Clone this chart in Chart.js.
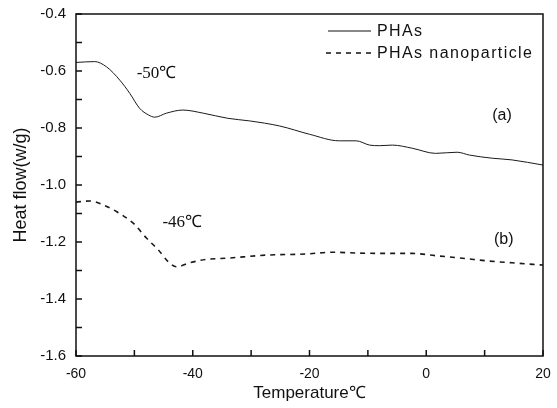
<!DOCTYPE html>
<html>
<head>
<meta charset="utf-8">
<script src="https://cdn.jsdelivr.net/npm/chart.js@4.4.1/dist/chart.umd.min.js"></script>
<style>
  html, body { margin: 0; padding: 0; background: #fff; }
  #wrap { width: 557px; height: 408px; }
</style>
</head>
<body>
<div id="wrap"><canvas id="dscChart"></canvas></div>
<script>
// PHAs (curve a)
const tempA = [-60, -56.8, -54.8, -52.5, -50.8, -49.1, -47.6, -46.5, -44.5, -41.7, -38.2, -34.0, -30.3, -25.1,
               -20.0, -14.9, -12.0, -9.7, -8.0, -5.8, -2.4, 1.6, 5.3, 7.4, 11.3, 14.7, 20];
const flowA = [-0.570, -0.567, -0.585, -0.632, -0.678, -0.731, -0.754, -0.762, -0.748, -0.737, -0.748, -0.766, -0.775, -0.793,
               -0.822, -0.845, -0.845, -0.860, -0.862, -0.860, -0.871, -0.889, -0.885, -0.895, -0.906, -0.912, -0.930];

// PHAs nanoparticle (curve b)
const tempB = [-60, -57.6, -55.3, -53.0, -50.2, -47.9, -45.9, -44.2, -42.8, -40.5, -37.7, -34.3, -27.4,
               -20.6, -16.0, -11.5, -6.9, -2.4, 1.6, 6.2, 10.8, 14.7, 20];
const flowB = [-1.060, -1.056, -1.070, -1.094, -1.134, -1.187, -1.228, -1.269, -1.287, -1.273, -1.261, -1.257, -1.246,
               -1.242, -1.236, -1.239, -1.240, -1.240, -1.248, -1.257, -1.267, -1.273, -1.281];

const seriesNames = ['PHAs', 'PHAs nanoparticle'];
const xTicks = [-60, -40, -20, 0, 20];
const yTicks = [-0.4, -0.6, -0.8, -1.0, -1.2, -1.4, -1.6];

const toPoints = (xs, ys) => xs.map((x, i) => ({ x: x, y: ys[i] }));

// box around the plot plus inward ticks on left and bottom
const frameAndTicks = {
    id: 'frameAndTicks',
    afterDatasetsDraw(chart) {
        const { ctx, chartArea: a, scales } = chart;
        ctx.save();
        ctx.strokeStyle = '#111';
        ctx.lineWidth = 1.5;
        ctx.strokeRect(a.left, a.top, a.right - a.left, a.bottom - a.top);
        ctx.beginPath();
        for (let v = -60; v <= 20; v += 10) {
            const px = scales.x.getPixelForValue(v);
            ctx.moveTo(px, a.bottom);
            ctx.lineTo(px, a.bottom - 6);
        }
        for (let i = 0; i <= 12; i++) {
            const py = scales.y.getPixelForValue(-1.6 + i * 0.1);
            ctx.moveTo(a.left, py);
            ctx.lineTo(a.left + 6, py);
        }
        ctx.stroke();
        ctx.restore();
    }
};

// legend in the upper right and the text notes
const notes = {
    id: 'notes',
    afterDraw(chart) {
        const { ctx, scales } = chart;
        const x = scales.x, y = scales.y;
        ctx.save();
        ctx.fillStyle = '#111';
        ctx.strokeStyle = '#111';

        // legend
        ctx.font = '16px "Liberation Sans", Arial, sans-serif';
        ctx.letterSpacing = '1.4px';
        ctx.textBaseline = 'middle';
        ctx.lineWidth = 1;
        ctx.beginPath();
        ctx.moveTo(328, 31);
        ctx.lineTo(371, 31);
        ctx.stroke();
        ctx.fillText(seriesNames[0], 377, 32);
        ctx.lineWidth = 1.5;
        ctx.setLineDash([5, 5]);
        ctx.beginPath();
        ctx.moveTo(326, 53);
        ctx.lineTo(372, 53);
        ctx.stroke();
        ctx.setLineDash([]);
        ctx.fillText(seriesNames[1], 377, 54);
        ctx.letterSpacing = '0px';

        // transition labels
        ctx.font = '17px "Liberation Serif", "Times New Roman", serif';
        ctx.textAlign = 'left';
        ctx.fillText('-50℃', x.getPixelForValue(-49.6), y.getPixelForValue(-0.61));
        ctx.fillText('-46℃', x.getPixelForValue(-45.2), y.getPixelForValue(-1.13));

        ctx.font = '16px "Liberation Sans", Arial, sans-serif';
        ctx.fillText('(a)', x.getPixelForValue(11.3), y.getPixelForValue(-0.757));
        ctx.fillText('(b)', x.getPixelForValue(11.6), y.getPixelForValue(-1.19));
        ctx.restore();
    }
};

const dscChart = new Chart(document.getElementById('dscChart').getContext('2d'), {
    type: 'line',
    data: {
        datasets: [{
            label: seriesNames[0],
            data: toPoints(tempA, flowA),
            borderColor: '#1a1a1a',
            borderWidth: 1,
            pointRadius: 0,
            cubicInterpolationMode: 'monotone',
            fill: false
        }, {
            label: seriesNames[1],
            data: toPoints(tempB, flowB),
            borderColor: '#1a1a1a',
            borderWidth: 1.6,
            borderDash: [5, 5],
            pointRadius: 0,
            cubicInterpolationMode: 'monotone',
            fill: false
        }]
    },
    options: {
        responsive: true,
        maintainAspectRatio: false,
        animation: false,
        layout: { padding: { top: 14, right: 14, left: 0, bottom: 0 } },
        plugins: {
            legend: { display: false },
            tooltip: { enabled: false }
        },
        scales: {
            x: {
                type: 'linear',
                min: -60,
                max: 20,
                afterBuildTicks: s => { s.ticks = xTicks.map(v => ({ value: v })); },
                grid: { display: false },
                border: { display: false },
                ticks: {
                    color: '#111',
                    padding: 2,
                    font: { family: '"Liberation Sans", Arial, sans-serif', size: 14 },
                    callback: v => String(v)
                },
                title: {
                    display: true,
                    text: 'Temperature℃',
                    color: '#111',
                    padding: { top: 6 },
                    font: { family: '"Liberation Sans", Arial, sans-serif', size: 17 }
                },
                afterFit: s => { s.height = 52; }
            },
            y: {
                type: 'linear',
                min: -1.6,
                max: -0.4,
                afterBuildTicks: s => { s.ticks = yTicks.map(v => ({ value: v })); },
                grid: { display: false },
                border: { display: false },
                ticks: {
                    color: '#111',
                    padding: 2,
                    font: { family: '"Liberation Sans", Arial, sans-serif', size: 15 },
                    callback: v => v.toFixed(1)
                },
                title: {
                    display: true,
                    text: 'Heat flow(w/g)',
                    color: '#111',
                    padding: { top: 10, bottom: 4 },
                    font: { family: '"Liberation Sans", Arial, sans-serif', size: 18 }
                },
                afterFit: s => { s.width = 76; }
            }
        }
    },
    plugins: [frameAndTicks, notes]
});
</script>
</body>
</html>
